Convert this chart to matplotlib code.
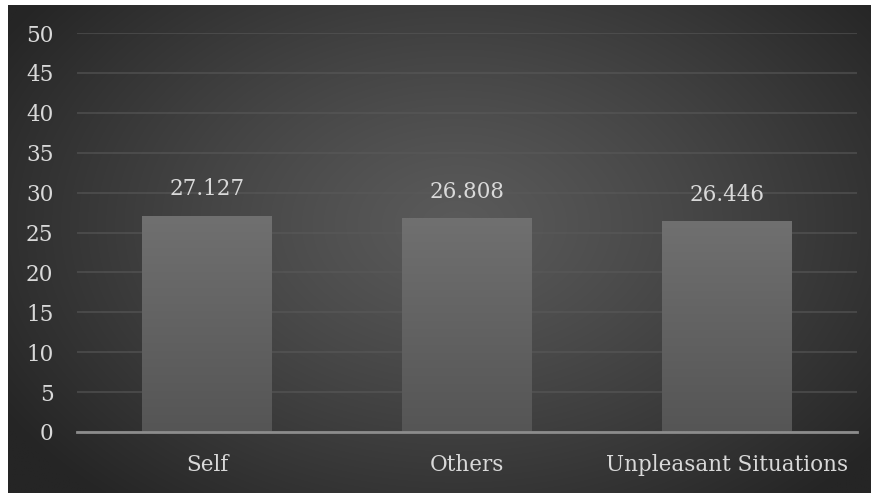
import matplotlib
matplotlib.use("Agg")
import matplotlib.pyplot as plt
import matplotlib.patheffects as pe
import numpy as np

# Chart data
categories = ["Self", "Others", "Unpleasant Situations"]
values = [27.127, 26.808, 26.446]
value_labels = ["27.127", "26.808", "26.446"]
y_ticks = [0, 5, 10, 15, 20, 25, 30, 35, 40, 45, 50]

W, H = 873, 493
fig = plt.figure(figsize=(W / 100, H / 100), dpi=100)
fig.patch.set_facecolor("white")

# dark radial gradient backdrop
bg_ax = fig.add_axes([8 / W, 0, (871 - 8) / W, 488 / H])
bg_ax.set_axis_off()
gx, gy = np.meshgrid(np.linspace(0, 1, 400), np.linspace(0, 1, 240))
r = np.sqrt(((gx - 0.52) / 0.62) ** 2 + ((gy - 0.45) / 0.75) ** 2)
r = np.clip(r, 0, 1)
shade = (0x5a - (0x5a - 0x25) * r ** 1.2) / 255.0
bg_ax.imshow(np.dstack([shade] * 3), aspect="auto", extent=[0, 1, 0, 1],
             origin="upper", interpolation="bilinear")

text_color = "#d9d9d9"
fsize = 15.5
plt.rcParams["font.family"] = ["DejaVu Serif"]

ax = fig.add_axes([77 / W, (H - 432) / H, (857 - 77) / W, (432 - 33) / H])
ax.patch.set_alpha(0)

x = np.arange(len(categories))
bars = ax.bar(x, values, width=0.5, color="#666666", zorder=3,
              path_effects=[pe.SimplePatchShadow(offset=(0, -1), alpha=0.18, shadow_rgbFace="black"),
                            pe.Normal()])

# vertical gradient inside each bar
grad = np.linspace(0x70, 0x55, 200).reshape(-1, 1) / 255.0
for b in bars:
    x0, y0 = b.get_x(), b.get_y()
    im = ax.imshow(np.dstack([grad] * 3), aspect="auto", origin="upper",
                   extent=[x0, x0 + b.get_width(), y0, y0 + b.get_height()],
                   zorder=4, interpolation="bilinear")
    im.set_clip_path(b)

for xi, v, lab in zip(x, values, value_labels):
    ax.annotate(lab, (xi, v), xytext=(0, 11), textcoords="offset points",
                ha="center", va="bottom", color=text_color, fontsize=fsize, zorder=5)

ax.set_xlim(-0.5, len(categories) - 0.5)
ax.set_ylim(0, 50)
ax.set_yticks(y_ticks)
ax.set_xticks(x)
ax.set_xticklabels(categories)
ax.tick_params(axis="both", length=0, colors=text_color, labelsize=fsize)
ax.tick_params(axis="y", pad=17)
ax.tick_params(axis="x", pad=16)

ax.grid(axis="y", color="#5a5a5a", linewidth=1.5, alpha=0.55, zorder=1)
ax.set_axisbelow(True)
for s in ["top", "right", "left"]:
    ax.spines[s].set_visible(False)
ax.spines["bottom"].set_color("#8c8c8c")
ax.spines["bottom"].set_linewidth(2)
ax.spines["bottom"].set_zorder(6)

fig.savefig("out.png", dpi=100, facecolor=fig.get_facecolor())
